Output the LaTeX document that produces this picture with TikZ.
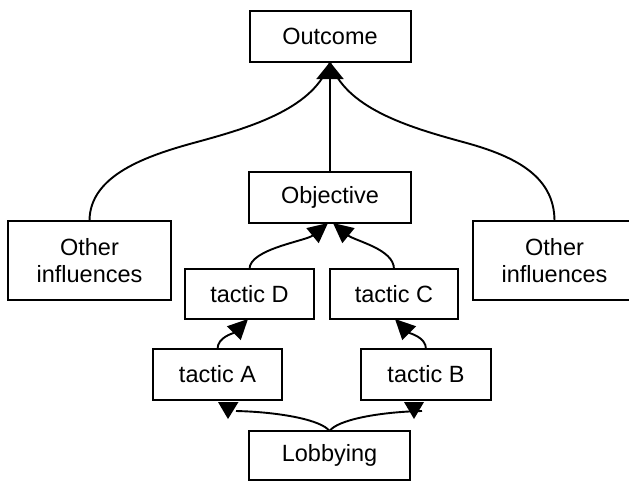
\documentclass[tikz,border=0pt]{standalone}
\usepackage{fontspec}
\setmainfont{Liberation Sans}
\usetikzlibrary{arrows.meta,calc}
\begin{document}
\begin{tikzpicture}[x=1pt,y=-1pt,
  box/.style={draw,line width=2pt,inner sep=0pt,outer sep=0pt,align=center,
    font=\fontsize{23.5pt}{27pt}\selectfont},
  conn/.style={line width=1.9pt},
  bighead/.style={-{Triangle[length=17pt,width=27pt]}},
  head/.style={-{Triangle[length=20pt,width=19pt]}}]
\useasboundingbox (0,0) rectangle (629,482);
\clip (0,0) rectangle (629,482);
\node[box,minimum width=161pt,minimum height=51pt] (out) at (330,36.5) {Outcome};
\node[box,minimum width=162pt,minimum height=51pt] (obj) at (330,197.5) {Objective};
\node[box,minimum width=163pt,minimum height=79pt] (lo) at (89.5,260.5) {Other\\influences};
\node[box,minimum width=163pt,minimum height=79pt] (ro) at (554.5,260.5) {Other\\influences};
\node[box,minimum width=129pt,minimum height=50pt] (tD) at (249.5,294) {tactic D};
\node[box,minimum width=128pt,minimum height=50pt] (tC) at (394,294) {tactic C};
\node[box,minimum width=129pt,minimum height=51pt] (tA) at (217.5,374.5) {tactic A};
\node[box,minimum width=130pt,minimum height=51pt] (tB) at (426,374.5) {tactic B};
\node[box,minimum width=161pt,minimum height=49pt] (lob) at (329.5,455.5) {Lobbying};
% other influences to outcome
\draw[conn] (lo.north) .. controls (89.5,175) and (147,155.5) .. (197,142)
  .. controls (252,127) and (315,108) .. (out.south);
\draw[conn] (ro.north) .. controls (554.5,175) and (513,155.5) .. (463,142)
  .. controls (408,127) and (345,108) .. (out.south);
\draw[conn,bighead] (obj.north) -- (out.south);
% tactics to objective
\draw[conn,head] (tD.north) .. controls +(0,-20) and +(-22,18) .. ($(obj.south)+(-2,0)$);
\draw[conn,head] (tC.north) .. controls +(0,-20) and +(22,18) .. ($(obj.south)+(3,0)$);
\draw[conn,head] (tA.north) .. controls +(0,-12) and +(-14,14) .. ($(tD.south)+(-1.5,0)$);
\draw[conn,head] (tB.north) .. controls +(0,-12) and +(14,14) .. ($(tC.south)+(1,0)$);
% lobbying
\draw[conn] (lob.north) .. controls +(-8,-11) and +(44,1) .. ($(tA.south)+(18.5,11)$);
\draw[conn] (lob.north) .. controls +(8,-11) and +(-44,1) .. ($(tB.south)+(-4,11)$);
\fill ($(tA.south)+(0.5,2)$) -- ($(tA.south)+(21,2)$) -- ($(tA.south)+(10.5,19)$) -- cycle;
\fill ($(tB.south)+(-22,2)$) -- ($(tB.south)+(-2,2)$) -- ($(tB.south)+(-12,19)$) -- cycle;
\end{tikzpicture}
\end{document}
